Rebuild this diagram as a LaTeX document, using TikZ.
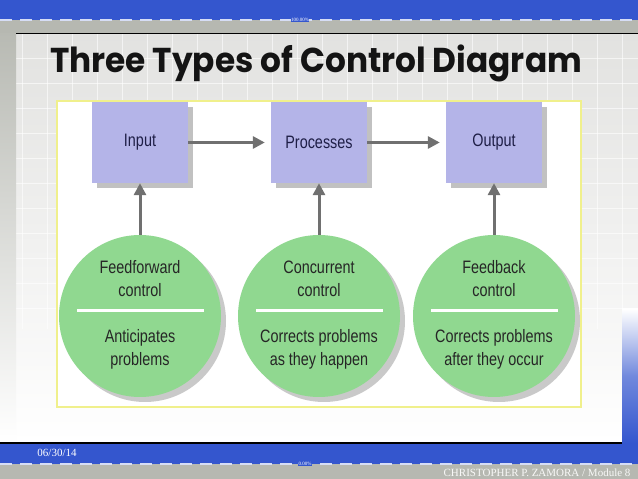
\documentclass[tikz,border=0pt]{standalone}
\usepackage{fontspec}
\setmainfont{Liberation Serif}
\newfontfamily\titlefont{Poppins}[FakeStretch=0.95]
\newfontfamily\condfont{Liberation Sans}[FakeStretch=0.8]
\usetikzlibrary{arrows.meta,shadows,positioning}
\definecolor{slideblue}{RGB}{52,86,206}
\definecolor{bandgray}{RGB}{182,184,177}
\definecolor{gridgray}{RGB}{226,226,224}
\definecolor{boxblue}{RGB}{180,180,232}
\definecolor{boxtext}{RGB}{30,30,70}
\definecolor{circgreen}{RGB}{144,216,144}
\definecolor{arrowgray}{RGB}{112,112,112}
\definecolor{figyellow}{RGB}{240,240,140}

\begin{document}
\begin{tikzpicture}[x=1pt,y=1pt,
  stage/.style={fill=boxblue, minimum width=96pt, minimum height=81pt, inner sep=0pt,
    font=\condfont\fontsize{18}{22}\selectfont, text=boxtext,
    drop shadow={shadow xshift=5pt, shadow yshift=-5pt, fill=black!40, opacity=.6}},
  ctrl/.style={circle, fill=circgreen, minimum size=162pt, inner sep=0pt,
    drop shadow={shadow xshift=5pt, shadow yshift=-5pt, fill=black!35, opacity=.6}},
  ctrltext/.style={align=center, font=\condfont\fontsize{18}{23}\selectfont, text=black!85},
  flow/.style={draw=arrowgray, line width=3pt, -{Triangle[length=12pt,width=12pt]}},
  dashline/.style={white!80!slideblue, line width=1.2pt, dash pattern=on 12pt off 8pt},
  gridline/.style={white, line width=.7pt, opacity=.6}]
\useasboundingbox (0,0) rectangle (638,479);

% Slide background
\fill[top color=gridgray, middle color=gridgray, bottom color=white] (16,36) rectangle (638,446);
\foreach \gx in {22,47,...,622} \draw[gridline] (\gx,150) -- (\gx,445);
\foreach \gy in {421,396,...,150} \draw[gridline] (16,\gy) -- (638,\gy);
\fill[top color=bandgray, bottom color=white] (0,36) rectangle (16,458);

% Top band
\fill[bandgray] (0,446) rectangle (638,459);
\fill[slideblue] (0,459) rectangle (638,479);
\draw[dashline] (0,459) -- (638,459);
\node[fill=slideblue, text=white, inner sep=.5pt, font=\fontsize{5}{5}\selectfont] (zoomtop) at (300,459) {100.00\%};
\draw[black, line width=1.2pt] (16,445.5) -- (638,445.5);

% Bottom band
\fill[bandgray] (0,0) rectangle (638,15);
\fill[slideblue] (0,15) rectangle (638,36);
\fill[top color=white, bottom color=slideblue, middle color=slideblue!70!white] (622,36) rectangle (638,170);
\draw[dashline] (0,15) -- (638,15);
\node[fill=slideblue, text=white, inner sep=.5pt, font=\fontsize{5}{5}\selectfont] (zoombot) at (305,15) {0.00\%};
\draw[black, line width=1.2pt] (0,36) -- (622,36);
\node[anchor=base, text=white, font=\fontsize{11}{11}\selectfont] (date) at (57,22) {06/30/14};
\node[anchor=base east, text=white!90!bandgray, font=\fontsize{11}{11}\selectfont] (author) at (634,2) {CHRISTOPHER P. ZAMORA / Module 8};

% Title
\node[anchor=base, text=black!92, font=\titlefont\bfseries\fontsize{34.5}{40}\selectfont] (title) at (316,406) {Three Types of Control Diagram};

% Figure frame
\draw[figyellow, fill=white, line width=1.2pt] (57,72) rectangle (581,378);

% Stages
\node[stage] (input) at (140,336.5) {Input};
\node[stage] (processes) at (319,336.5) {Processes};
\node[stage] (output) at (494,336.5) {Output};

\draw[flow, shorten >=6pt] (input.east) -- (processes.west);
\draw[flow, shorten >=6pt] (processes.east) -- (output.west);

% Control circles
\node[ctrl] (ffwd) at (140,163) {};
\node[ctrl] (conc) at (319,163) {};
\node[ctrl] (fback) at (494,163) {};

\draw[flow] (ffwd.north) -- (input.south);
\draw[flow] (conc.north) -- (processes.south);
\draw[flow] (fback.north) -- (output.south);

\foreach \c in {ffwd,conc,fback}
  \draw[white, line width=3pt] ([xshift=-63pt,yshift=5pt]\c.center) -- ([xshift=64pt,yshift=5pt]\c.center);

\node[ctrltext] (ffwdname) at ([yshift=37pt]ffwd.center) {Feedforward\\control};
\node[ctrltext] (ffwdtext) at ([yshift=-33pt]ffwd.center) {Anticipates\\problems};
\node[ctrltext] (concname) at ([yshift=37pt]conc.center) {Concurrent\\control};
\node[ctrltext] (conctext) at ([yshift=-33pt]conc.center) {Corrects problems\\as they happen};
\node[ctrltext] (fbackname) at ([yshift=37pt]fback.center) {Feedback\\control};
\node[ctrltext] (fbacktext) at ([yshift=-33pt]fback.center) {Corrects problems\\after they occur};

\end{tikzpicture}
\end{document}
